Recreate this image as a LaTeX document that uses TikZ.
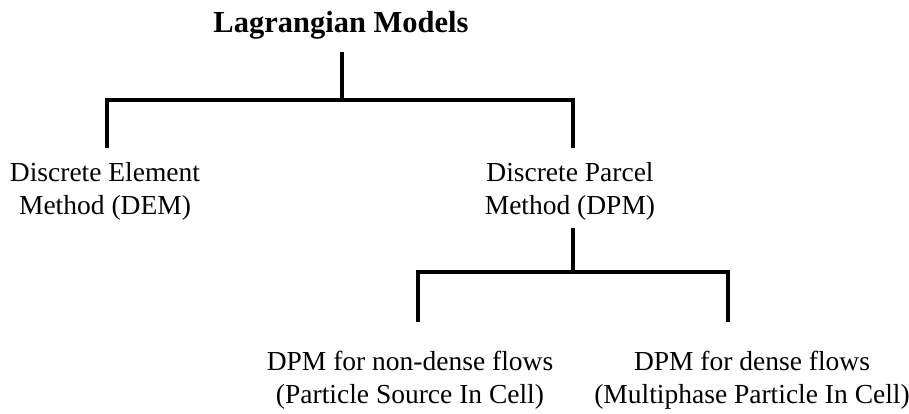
\documentclass[tikz,border=0pt]{standalone}
\usepackage{fontspec}
\setmainfont{Liberation Serif}
\begin{document}
\begin{tikzpicture}[x=1pt,y=-1pt,
  lbl/.style={align=center,font=\fontsize{27.5}{33}\selectfont,inner sep=0pt},
  ttl/.style={font=\fontsize{30.5}{37}\selectfont\bfseries,inner sep=0pt},
  conn/.style={line width=3.3pt,line join=miter}]
\useasboundingbox (0,0) rectangle (909,414);
\node[ttl] (title) at (341,25) {Lagrangian Models};
\node[lbl] (dem) at (105,191) {Discrete Element\\Method (DEM)};
\node[lbl] (dpm) at (570,191) {Discrete Parcel\\Method (DPM)};
\node[lbl] (nd) at (410,380) {DPM for non-dense flows\\(Particle Source In Cell)};
\node[lbl] (de) at (752,380) {DPM for dense flows\\(Multiphase Particle In Cell)};
\coordinate (t0) at (342,52);
\coordinate (t1) at (342,100);
\coordinate (a) at (107,148);
\coordinate (b) at (573,148);
\coordinate (c0) at (573,228);
\coordinate (c1) at (573,272);
\coordinate (d) at (418,322);
\coordinate (e) at (728,322);
\draw[conn] (t0) -- (t1);
\draw[conn] (a) |- (t1) -| (b);
\draw[conn] (c0) -- (c1);
\draw[conn] (d) |- (c1) -| (e);
\end{tikzpicture}
\end{document}
